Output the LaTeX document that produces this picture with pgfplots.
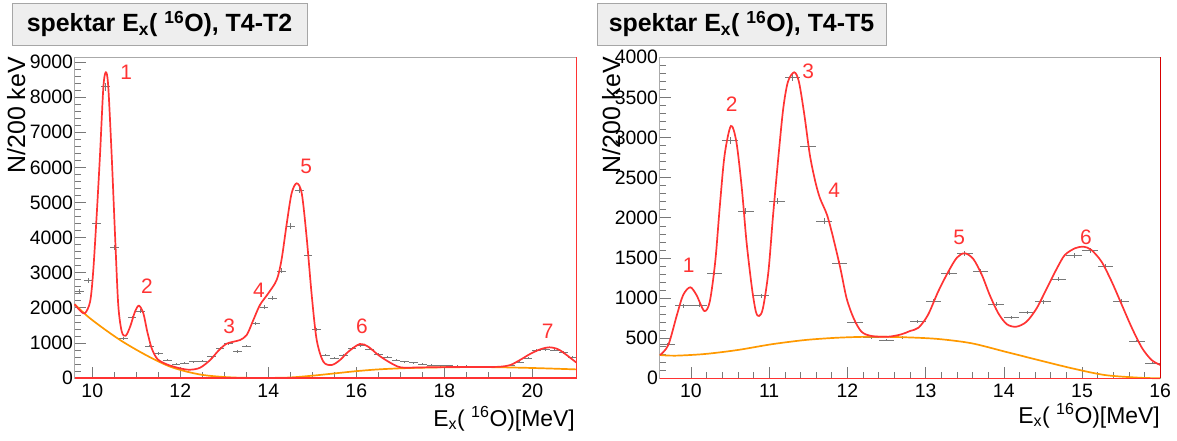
\documentclass[border=0pt]{standalone}
\usepackage{fontspec}
\setmainfont{Liberation Sans}
\usepackage{pgfplots}
\usepackage{pgfplotstable}
\pgfplotsset{compat=1.18}
\definecolor{fitred}{RGB}{255,51,51}
\definecolor{darkfitred}{RGB}{215,0,0}
\definecolor{bgorange}{RGB}{255,153,0}
\definecolor{framegray}{RGB}{170,170,170}
\definecolor{titlefill}{RGB}{238,238,238}
\definecolor{errgray}{RGB}{120,120,120}

\pgfplotstableread{
x y e
9.7 2480 65
9.9 2770 68
10.1 4407 86
10.3 8300 118
10.5 3712 79
10.7 1130 44
10.9 1718 54
11.1 1909 57
11.3 912 39
11.5 703 34
11.7 513 29
11.9 390 26
12.1 418 27
12.3 465 28
12.5 484 29
12.7 607 32
12.9 850 38
13.1 988 41
13.3 750 36
13.5 912 39
13.7 1558 51
13.9 2020 58
14.1 2270 62
14.3 3050 72
14.5 4330 86
14.7 5356 95
14.9 3504 77
15.1 1387 48
15.3 655 33
15.5 561 31
15.7 655 33
15.9 855 38
16.1 930 40
16.3 826 37
16.5 670 34
16.7 590 32
16.9 513 29
17.1 465 28
17.3 436 27
17.5 400 26
17.7 370 25
17.9 350 24
18.1 350 24
18.3 345 24
18.5 340 24
18.7 310 23
18.9 300 23
19.1 300 23
19.3 310 23
19.5 360 25
19.7 450 28
19.9 560 31
20.1 790 37
20.3 817 37
20.5 798 37
20.7 732 35
20.9 590 32
}\leftdata

\pgfplotstableread{
x y
9.6 2100
9.7 1950
9.83 1843
9.95 2174
10.02 3028
10.1 4644
10.175 6353
10.25 8254
10.305 8709
10.36 8348
10.44 6353
10.52 3980
10.59 2080
10.67 1319
10.76 1205
10.86 1462
10.97 1889
11.06 2060
11.16 1843
11.25 1319
11.35 846
11.48 541
11.69 390
11.99 276
12.22 236
12.45 293
12.68 513
12.86 769
13.05 975
13.28 1054
13.36 1083
13.51 1225
13.66 1652
13.81 2080
14.0 2413
14.19 2792
14.3 3362
14.42 4407
14.53 5262
14.645 5547
14.76 5262
14.87 4026
14.99 2316
15.1 1083
15.25 465
15.44 370
15.63 513
15.82 750
16.08 969
16.27 893
16.5 655
16.73 465
16.95 322
17.1 293
17.4 300
18 310
18.5 315
19 315
19.27 322
19.5 370
19.72 513
19.95 684
20.18 817
20.39 874
20.59 817
20.78 655
21.0 440
}\leftfit

\pgfplotstableread{
x y
9.6 2100
9.9 1750
10.25 1415
10.63 1083
11.01 798
11.39 541
11.77 322
12.15 180
12.52 85
12.9 37
13.3 10
13.8 2
14.45 12
15.0 66
15.5 130
16.0 195
16.5 245
17.1 280
18 305
19 310
20 285
21 245
}\leftbg

\pgfplotstableread{
x y e
9.7 424 15
9.9 905 23
10.1 913 23
10.3 1308 27
10.5 2961 41
10.7 2085 34
10.9 1029 24
11.1 2209 35
11.3 3746 46
11.5 2886 40
11.7 1960 33
11.9 1433 28
12.1 698 20
12.3 506 17
12.5 477 16
12.7 506 17
12.9 705 20
13.1 963 23
13.3 1308 27
13.5 1558 30
13.7 1329 27
13.9 922 23
14.1 760 21
14.3 822 22
14.5 955 23
14.7 1237 26
14.9 1528 29
15.1 1590 30
15.3 1391 28
15.5 963 23
15.7 465 16
15.9 187 10
}\rightdata

\pgfplotstableread{
x y
9.604 290
9.71 415
9.82 789
9.9 1038
9.99 1134
10.07 1038
10.17 839
10.24 955
10.31 1453
10.37 2160
10.43 2783
10.51 3144
10.58 2948
10.65 2368
10.71 1702
10.78 1121
10.83 830
10.87 776
10.92 872
10.99 1328
11.05 2035
11.12 2783
11.18 3364
11.24 3696
11.32 3813
11.38 3696
11.45 3281
11.52 2783
11.59 2450
11.65 2243
11.74 2035
11.82 1745
11.91 1371
11.99 997
12.08 748
12.18 581
12.31 527
12.52 518
12.69 548
12.8 589
12.91 631
13.03 789
13.16 1079
13.29 1328
13.4 1503
13.5 1558
13.61 1487
13.72 1287
13.82 1038
13.93 810
14.04 673
14.16 643
14.29 705
14.42 872
14.55 1121
14.68 1371
14.78 1536
14.91 1620
15.02 1640
15.12 1599
15.25 1453
15.38 1204
15.51 913
15.64 623
15.77 374
15.89 228
16.0 166
}\rightfit

\pgfplotstableread{
x y
9.6 290
9.8 282
10.18 303
10.6 353
11.03 424
11.46 477
11.88 506
12.31 518
12.74 511
13.16 490
13.59 436
14.02 331
14.44 228
14.87 125
15.29 41
15.72 8
16.0 0
}\rightbg

\pgfplotsset{
  rootstyle/.style={
    scale only axis, anchor=south west, clip=false,
    axis line style={framegray, line width=0.8bp},
    tick align=inside, xtick pos=bottom, ytick pos=left,
    major tick length=11bp, minor tick length=6bp,
    every tick/.append style={errgray, line width=0.6bp},
    tick label style={font=\fontsize{19.5}{19.5}\selectfont},
    /pgf/number format/assume math mode=true,
    /pgf/number format/1000 sep={},
    scaled ticks=false,
    yticklabel style={inner sep=1.5bp},
    xticklabel style={inner sep=1.5bp, yshift=-4bp},
  },
  databars/.style={draw=none, mark=none,
    error bars/.cd, x dir=both, x fixed=0.1, y dir=both, y explicit, error mark=none,
    error bar style={draw=errgray, line width=0.6bp}},
  fitline/.style={fitred, line width=1.7bp, smooth, no markers},
  bgline/.style={bgorange, line width=1.7bp, smooth, no markers},
}
\tikzset{peaklabel/.style={text=fitred, font=\fontsize{21}{21}\selectfont, inner sep=0}}

\begin{document}
\begin{tikzpicture}
\useasboundingbox (0,0) rectangle (1177bp,441bp);

\begin{axis}[rootstyle, at={(74.7bp,63bp)}, width=501.6bp, height=321bp,
  xmin=9.6, xmax=21, ymin=0, ymax=9145,
  xtick={10,12,...,20}, minor x tick num=3,
  ytick={0,1000,...,9000}, minor y tick num=4]
\addplot[databars] table[x=x, y=y, y error=e] {\leftdata};
\addplot[bgline] table[x=x, y=y] {\leftbg};
\addplot[fitline] table[x=x, y=y] {\leftfit};
\draw[fitred, line width=1.2bp] (rel axis cs:0,0) -- (rel axis cs:1,0) -- (rel axis cs:1,1);
\node[peaklabel] at (axis cs:10.77,8718) {1};
\node[peaklabel] at (axis cs:11.24,2621) {2};
\node[peaklabel] at (axis cs:13.11,1481) {3};
\node[peaklabel] at (axis cs:13.79,2507) {4};
\node[peaklabel] at (axis cs:14.86,6040) {5};
\node[peaklabel] at (axis cs:16.13,1481) {6};
\node[peaklabel] at (axis cs:20.35,1339) {7};
\end{axis}

\begin{axis}[rootstyle, at={(659.7bp,62.7bp)}, width=500.5bp, height=321bp,
  xmin=9.6, xmax=16, ymin=0, ymax=4000,
  xtick={10,11,...,16}, minor x tick num=4,
  ytick={0,500,...,4000}, minor y tick num=4]
\addplot[databars] table[x=x, y=y, y error=e] {\rightdata};
\addplot[bgline] table[x=x, y=y] {\rightbg};
\addplot[fitline] table[x=x, y=y] {\rightfit};
\draw[fitred, line width=1.2bp] (rel axis cs:0,0) -- (rel axis cs:1,0);
\draw[darkfitred, line width=1.2bp] (rel axis cs:1,0) -- (rel axis cs:1,1);
\node[peaklabel] at (axis cs:9.97,1412) {1};
\node[peaklabel] at (axis cs:10.52,3418) {2};
\node[peaklabel] at (axis cs:11.5,3829) {3};
\node[peaklabel] at (axis cs:11.83,2346) {4};
\node[peaklabel] at (axis cs:13.43,1760) {5};
\node[peaklabel] at (axis cs:15.05,1760) {6};
\end{axis}

% titles
\node[draw=gray!70, fill=titlefill, line width=0.8bp, minimum width=295bp, minimum height=42bp, inner sep=0,
  font=\bfseries\fontsize{25}{25}\selectfont] at (159.5bp,417bp) {spektar E\textsubscript{x}( \textsuperscript{16}O), T4-T2};
\node[draw=gray!70, fill=titlefill, line width=0.8bp, minimum width=289bp, minimum height=42bp, inner sep=0,
  font=\bfseries\fontsize{25}{25}\selectfont] at (741.5bp,417bp) {spektar E\textsubscript{x}( \textsuperscript{16}O), T4-T5};

% axis titles
\node[rotate=90, anchor=base east, inner sep=0, font=\fontsize{25}{25}\selectfont] at (25bp,384bp) {N/200 keV};
\node[rotate=90, anchor=base east, inner sep=0, font=\fontsize{25}{25}\selectfont] at (620bp,384bp) {N/200 keV};
\node[anchor=base east, inner sep=0, font=\fontsize{23}{23}\selectfont] at (575bp,15bp) {E\textsubscript{x}( \textsuperscript{16}O)[MeV]};
\node[anchor=base east, inner sep=0, font=\fontsize{23}{23}\selectfont] at (1160bp,18bp) {E\textsubscript{x}( \textsuperscript{16}O)[MeV]};
\end{tikzpicture}
\end{document}
